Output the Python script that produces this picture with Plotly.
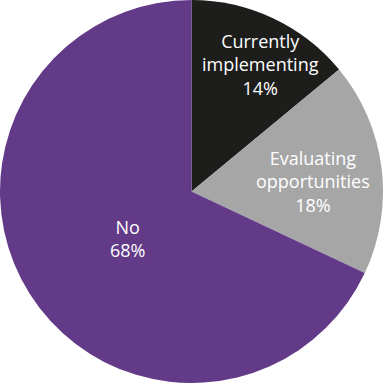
import plotly.graph_objects as go

labels = ["Currently<br>implementing", "Evaluating<br>opportunities", "No"]
values = [14, 18, 68]
colors = ["#1d1d1b", "#a7a6a6", "#633a88"]

# label anchor positions in pixels (centre of each text block)
label_pos = [(260, 65), (313, 182), (127, 238)]
W = H = 383

fig = go.Figure(go.Pie(
    labels=labels, values=values, sort=False, direction="clockwise", rotation=0,
    marker=dict(colors=colors, line=dict(width=0)),
    textinfo="none",
    hoverinfo="skip", showlegend=False,
    domain=dict(x=[0, 1], y=[0, 1]),
))
for lab, val, (px, py) in zip(labels, values, label_pos):
    fig.add_annotation(
        x=px / W, y=1 - py / H, xref="paper", yref="paper",
        xanchor="center", yanchor="middle", showarrow=False,
        text=f"{lab}<br>{val}%",
        font=dict(family="Open Sans", size=18, color="white"),
    )
fig.update_layout(width=W, height=H, margin=dict(l=0, r=0, t=0, b=0),
                  paper_bgcolor="white", plot_bgcolor="white")
fig.write_html("out.html")
